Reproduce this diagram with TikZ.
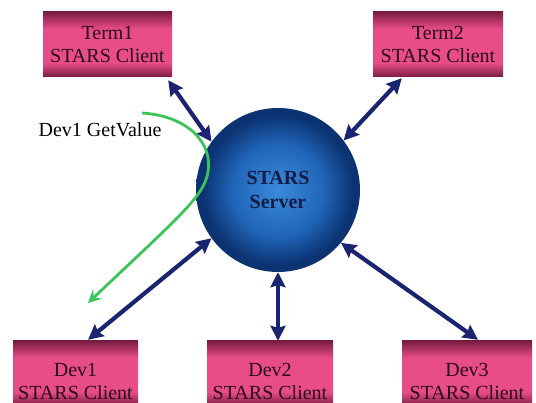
\documentclass[tikz,border=0pt]{standalone}
\usepackage{fontspec}
\setmainfont{Liberation Serif}
\usetikzlibrary{arrows.meta,calc}
\definecolor{pkDark}{HTML}{7A1C42}
\definecolor{pkMid}{HTML}{E84D88}
\definecolor{pkText}{HTML}{2A0A16}
\definecolor{ballIn}{HTML}{3B8ADB}
\definecolor{ballMid}{HTML}{2065B8}
\definecolor{ballOut}{HTML}{0B3372}
\definecolor{navy}{HTML}{1B2470}
\definecolor{srvText}{HTML}{141C45}
\definecolor{grn}{HTML}{3CC45A}
\pgfdeclareverticalshading{pinkbox}{100bp}{color(0bp)=(pkDark); color(25bp)=(pkDark); color(36bp)=(pkMid); color(62bp)=(pkMid); color(75bp)=(pkDark); color(100bp)=(pkDark)}
\pgfdeclareradialshading{ballblue}{\pgfpoint{0bp}{0bp}}{color(0bp)=(ballIn); color(14bp)=(ballMid); color(23bp)=(ballOut); color(25bp)=(ballOut); color(50bp)=(ballOut)}
\tikzset{
  clientbox/.style={rectangle, shading=pinkbox, minimum height=65pt, inner sep=0pt,
    text=pkText, align=center, font=\fontsize{20}{23}\selectfont},
  boxtext/.style={text=pkText, align=center, inner sep=0pt, font=\fontsize{20}{23}\selectfont},
  server/.style={circle, shading=ballblue, minimum size=164pt, inner sep=0pt,
    text=srvText, align=center, font=\fontsize{20}{24}\selectfont\bfseries},
  biarrow/.style={draw=navy, line width=4.2pt,
    {Stealth[length=15pt,width=15pt,inset=2pt,fill=navy]}-{Stealth[length=15pt,width=15pt,inset=2pt,fill=navy]}},
  green arrow/.style={draw=grn, line width=2.8pt,
    -{Stealth[length=13pt,width=13pt,inset=5pt,fill=grn]}},
  lbl/.style={inner sep=0pt, font=\fontsize{20}{23}\selectfont}
}
\begin{document}
\begin{tikzpicture}[x=1pt,y=-1pt]
\useasboundingbox (0,0) rectangle (536,403);
\clip (0,0) rectangle (536,403);
\fill[white] (0,0) rectangle (536,403);
% clients
\node[clientbox, minimum width=129pt] (t1) at (107.5,44.5) {Term1\\STARS Client};
\node[clientbox, minimum width=130pt] (t2) at (438,44.5) {Term2\\STARS Client};
\node[clientbox, minimum width=125pt] (d1) at (75.5,373.5) {};
\node[clientbox, minimum width=126pt] (d2) at (270,373.5) {};
\node[clientbox, minimum width=130pt] (d3) at (467,373.5) {};
\node[boxtext] (d1t) at ([yshift=-8pt]d1.center) {Dev1\\STARS Client};
\node[boxtext] (d2t) at ([yshift=-8pt]d2.center) {Dev2\\STARS Client};
\node[boxtext] (d3t) at ([yshift=-8pt]d3.center) {Dev3\\STARS Client};
% server
\node[server] (srv) at (278,190) {STARS\\Server};
% connectors
\draw[biarrow] ([xshift=-4pt,yshift=-3pt]t1.south east) -- (srv.144);
\draw[biarrow] ([xshift=29pt,yshift=-1pt]t2.south west) -- (srv.37);
\draw[biarrow] (srv.216) -- ([xshift=12.5pt,yshift=1pt]d1.north);
\draw[biarrow] (srv.south) -- (srv.south |- d2.north);
\draw[biarrow] (srv.-40) -- ([xshift=11pt,yshift=1pt]d3.north);
% green request path
\coordinate (gs) at (142,113);
\coordinate (ge) at (88,303);
\draw[green arrow] (gs) .. controls (188,116) and (213,143) .. (208,172)
  .. controls (204,196) and (182,214) .. (ge);
\node[lbl] (getv) at (100,130) {Dev1 GetValue};
\end{tikzpicture}
\end{document}
